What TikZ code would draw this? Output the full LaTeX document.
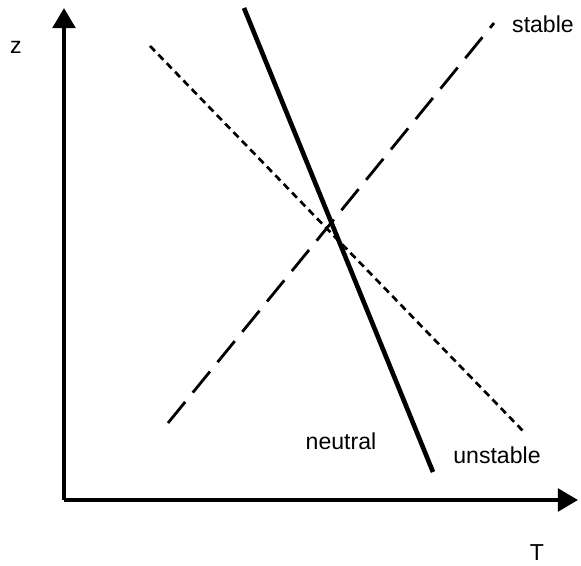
\documentclass[tikz,border=0pt]{standalone}
\usepackage{fontspec}
\setmainfont{Liberation Sans}
\usepackage{tikz}
\usetikzlibrary{arrows.meta}

\begin{document}
\begin{tikzpicture}[
  x=0.025cm, y=-0.025cm,
  lbl/.style={inner sep=0pt, font=\fontsize{16.4}{19}\selectfont},
  axis/.style={line width=2.8pt, -{Triangle[length=0.5cm, width=0.56cm]}},
  neutralline/.style={line width=3.3pt},
  stableline/.style={line width=2pt, dash pattern=on 0.68cm off 0.3cm},
  unstableline/.style={line width=1.9pt, dash pattern=on 0.18cm off 0.12cm}
]
\useasboundingbox (0,0) rectangle (581,566);
% axes
\coordinate (origin) at (64,500);
\coordinate (z-tip) at (64,8);
\coordinate (T-tip) at (578,500);
\draw[axis] (origin) -- (z-tip);
\draw[axis] (origin) -- (T-tip);
\node[lbl] (z-lbl) at (16,47) {z};
\node[lbl] (T-lbl) at (537,553) {T};

% profiles
\coordinate (neutral-top) at (244,8);
\coordinate (neutral-bot) at (433,472);
\coordinate (stable-bot) at (168,423);
\coordinate (stable-top) at (494,23);
\coordinate (unstable-top) at (150,46);
\coordinate (unstable-bot) at (524,432);
\draw[unstableline] (unstable-top) -- (unstable-bot);
\draw[stableline] (stable-bot) -- (stable-top);
\draw[neutralline] (neutral-top) -- (neutral-bot);

\node[lbl] (stable-lbl) at (543,24) {stable};
\node[lbl] (neutral-lbl) at (341,441) {neutral};
\node[lbl] (unstable-lbl) at (497,455) {unstable};
\end{tikzpicture}
\end{document}
